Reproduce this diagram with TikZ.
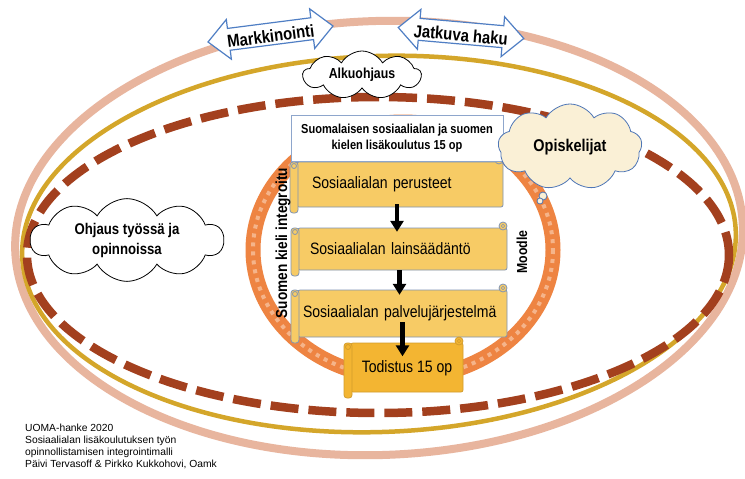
\documentclass[tikz,border=0pt]{standalone}
\usepackage{fontspec}
\setmainfont{Liberation Sans}
\newfontfamily\nar[FakeStretch=0.85]{Liberation Sans}
\usetikzlibrary{shapes.symbols,arrows.meta,calc}

\definecolor{peach}{HTML}{E8B59E}
\definecolor{goldline}{HTML}{D4A62A}
\definecolor{brick}{HTML}{A3401E}
\definecolor{ringc}{HTML}{EE8442}
\definecolor{ringdot}{HTML}{F5B48A}
\definecolor{scrollfill}{HTML}{F7CB65}
\definecolor{scrollline}{HTML}{7F93B4}
\definecolor{todfill}{HTML}{F3B532}
\definecolor{todline}{HTML}{D39C2C}
\definecolor{headline}{HTML}{8EA6CC}
\definecolor{creamfill}{HTML}{FAF0D6}
\definecolor{cloudblue}{HTML}{4E76B6}
\definecolor{arrowblue}{HTML}{4F7EC4}

% scroll outline: body corners (#1,#2)-(#3,#4), fill #5, line #6
\newcommand\scrollshape[6]{%
  \filldraw[fill=#5,draw=#6,line width=0.8pt,rounded corners=2pt] (#1,#2) rectangle (#3,#4);
  \filldraw[fill=#5,draw=#6,line width=0.8pt] ({#3-4},{#2-2}) circle[radius=4pt];
  \draw[#6,line width=0.6pt] ({#3-4},{#2-2}) circle[radius=1.7pt];
  \filldraw[fill=#5,draw=#6,line width=0.8pt,rounded corners=3pt] ({#1-7},#2) rectangle ({#1+1},{#4+6});
  \filldraw[fill=#5,draw=#6,line width=0.8pt] ({#1-3},{#2+4}) circle[radius=2.5pt];
}

% two-headed block arrow with a label: name, centre x, centre y, angle, text
\newcommand\dblarrow[5]{%
  \begin{scope}[shift={(#2,#3)},rotate=#4]
    \filldraw[fill=white,draw=arrowblue,line width=1.2pt,line join=miter]
      (-63,0) -- (-42,-20) -- (-42,-11) -- (42,-11) -- (42,-20) -- (63,0)
      -- (42,20) -- (42,11) -- (-42,11) -- (-42,20) -- cycle;
    \node[lbl,font=\nar\bfseries\fontsize{17.5}{19}\selectfont,rotate=#4] (#1) at (0,2) {#5};
  \end{scope}}

\begin{document}
\begin{tikzpicture}[x=1pt,y=-1pt,
  lbl/.style={inner sep=0pt},
  bodytext/.style={inner sep=0pt,font=\nar\fontsize{16.5}{19}\selectfont,align=left},
  blk/.style={line width=4.5pt,-{Triangle[width=13pt,length=11pt]}},
  puff/.style={cloud,cloud puffs=#1,cloud puff arc=120,inner sep=0pt,line width=0.8pt}]

\useasboundingbox (0,0) rectangle (745,479);
\fill[white] (0,0) rectangle (745,479);

% three nested rings
\draw[peach,line width=8pt,rotate around={2:(379,238)}] (379,238) ellipse[x radius=364,y radius=217];
\draw[goldline,line width=4.5pt,rotate around={2:(379,244)}] (379,244) ellipse[x radius=357,y radius=188];
\draw[brick,line width=8.5pt,dash pattern=on 28pt off 10pt] (378,255) ellipse[x radius=351,y radius=158];

% beaded language ring
\draw[ringc,line width=15pt] (403,250) ellipse[x radius=150,y radius=128];
\draw[ringdot,line width=4pt,dash pattern=on 4pt off 5pt] (403,250) ellipse[x radius=150,y radius=128];

% clouds
\node[puff=10,draw=black,fill=white,aspect=2.5,minimum width=193pt,minimum height=76pt,align=center,
      font=\nar\bfseries\fontsize{15.5}{20}\selectfont] (ohjaus) at (127,240) {Ohjaus työssä ja\\opinnoissa};
\node[puff=9,draw=black,fill=white,aspect=3,minimum width=118pt,minimum height=40pt,
      font=\nar\bfseries\fontsize{14.5}{16}\selectfont] (alku) at (362,75) {Alkuohjaus};

% two-headed arrows
\dblarrow{mark}{270.5}{34}{7.3}{Markkinointi}
\dblarrow{haku}{461}{33}{-5}{Jatkuva haku}

% course steps
\scrollshape{297}{162}{503}{207}{scrollfill}{scrollline}
\node[bodytext,minimum width=206pt,minimum height=45pt,text width=176pt] (s1) at (400,184.5) {Sosiaalialan perusteet};
\scrollshape{298}{228}{507}{270}{scrollfill}{scrollline}
\node[bodytext,minimum width=209pt,minimum height=42pt,text width=185pt] (s2) at (402.5,249) {Sosiaalialan lainsäädäntö};
\scrollshape{298}{290}{507}{337}{scrollfill}{scrollline}
\node[bodytext,minimum width=209pt,minimum height=47pt,text width=199pt] (s3) at (402.5,313.5) {Sosiaalialan palvelujärjestelmä};
\scrollshape{351}{343}{463}{392}{todfill}{todline}
\node[bodytext,align=center,minimum width=112pt,minimum height=49pt] (s4) at (407,368) {Todistus 15 op};

% heading box
\node[draw=headline,fill=white,line width=1pt,minimum width=212pt,minimum height=46pt,inner sep=0pt,align=center,
      font=\nar\bfseries\fontsize{13}{16.5}\selectfont] (head) at (397,138) {Suomalaisen sosiaalialan ja suomen\\kielen lisäkoulutus 15 op};

% flow arrows
\draw[blk] ($(s1.south)+(-3,-3)$) -- ($(s2.north -| s1.south)+(-3,4)$);
\draw[blk] ($(s2.south)+(-3,0)$) -- ($(s3.north -| s2.south)+(-3,5)$);
\draw[blk] ($(s3.south)+(0,-15)$) -- ($(s4.north -| s3.south)+(0,13)$);

% side labels
\node[lbl,rotate=90,font=\nar\bfseries\fontsize{16}{18}\selectfont] (kieli) at (283,243) {Suomen kieli integroitu};
\node[lbl,rotate=90,font=\nar\bfseries\fontsize{14.5}{16}\selectfont] (moodle) at (522,252) {Moodle};

% students thought cloud
\node[puff=9,draw=cloudblue,fill=creamfill,aspect=1.7,minimum width=144pt,minimum height=86pt,
      font=\nar\bfseries\fontsize{17}{19}\selectfont] (opisk) at (570,147) {Opiskelijat};
\filldraw[fill=creamfill,draw=cloudblue,line width=0.8pt] (543,196) circle[radius=4pt];
\filldraw[fill=creamfill,draw=cloudblue,line width=0.8pt] (540,201) circle[radius=3pt];

% credits
\node[lbl,anchor=north west,align=left,font=\fontsize{10.3}{11.8}\selectfont] (credit) at (25,424)
  {UOMA-hanke 2020\\Sosiaalialan lisäkoulutuksen työn\\opinnollistamisen integrointimalli\\Päivi Tervasoff \& Pirkko Kukkohovi, Oamk};
\end{tikzpicture}
\end{document}
